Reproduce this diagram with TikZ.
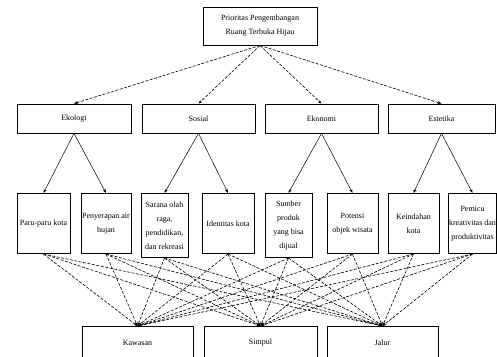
\documentclass[tikz,border=0pt]{standalone}
\usepackage{fontspec}
\setmainfont{Liberation Serif}
\usetikzlibrary{arrows.meta}
\tikzset{
    box/.style={draw, line width=0.9pt, inner sep=1pt, align=center,
                font=\fontsize{8}{14}\selectfont},
    goal/.style={box, minimum width=114pt, minimum height=38pt},
    crit/.style={box, line width=0.8pt, minimum height=29pt},
    sub/.style={box, line width=1pt, anchor=north, minimum height=60pt},
    alt/.style={box, anchor=north, minimum height=32pt},
    branch/.style={-{Stealth[length=4pt,width=3pt]}, line width=0.5pt},
    link/.style={branch, line width=0.6pt, dashed, dash pattern=on 3pt off 1.5pt},
}

\begin{document}
\begin{tikzpicture}[x=1pt, y=-1pt]

    \useasboundingbox (0,0) rectangle (497,356);

    \node[goal] (prio) at (260,26) {Prioritas Pengembangan\\Ruang Terbuka Hijau};

    \node[crit, minimum width=114pt] (eko) at (74,118.5) {Ekologi};
    \node[crit, minimum width=113pt] (sos) at (198.5,118.5) {Sosial};
    \node[crit, minimum width=113pt] (ekn) at (321.5,118.5) {Ekonomi};
    \node[crit, minimum width=107pt] (est) at (441.5,118.5) {Estetika};

    \node[sub, minimum width=53pt] (paru) at (43.5,193) {Paru-paru kota};
    \node[sub, minimum width=50pt] (resap) at (106,193) {Penyerapan air\\hujan};
    \node[sub, minimum width=47pt, minimum height=64pt] (sarana) at (164.5,193)
        {Sarana olah\\raga,\\pendidikan,\\dan rekreasi};
    \node[sub, minimum width=52pt] (ident) at (228,193) {Identitas kota};
    \node[sub, minimum width=47pt, minimum height=64pt] (sumber) at (288.5,193)
        {Sumber\\produk\\yang bisa\\dijual};
    \node[sub, minimum width=51pt] (wisata) at (352.5,193) {Potensi\\objek wisata};
    \node[sub, minimum width=51pt] (indah) at (413.5,193) {Keindahan\\kota};
    \node[sub, minimum width=47pt] (kreatif) at (472.5,193)
        {Pemicu\\kreativitas dan\\produktivitas};

    \node[alt, minimum width=111pt] (kaw) at (137.5,326) {Kawasan};
    \node[alt, minimum width=113pt] (simp) at (260.5,326) {Simpul};
    \node[alt, minimum width=111pt] (jal) at (382.5,326) {Jalur};

    \foreach \c in {eko,sos,ekn,est}
        \draw[link] (prio.south) -- (\c.north);

    \draw[branch] (eko.south) -- (paru.north);
    \draw[branch] (eko.south) -- (resap.north);
    \draw[branch] (sos.south) -- (sarana.north);
    \draw[branch] (sos.south) -- (ident.north);
    \draw[branch] (ekn.south) -- (sumber.north);
    \draw[branch] (ekn.south) -- (wisata.north);
    \draw[branch] (est.south) -- (indah.north);
    \draw[branch] (est.south) -- (kreatif.north);

    \foreach \s in {paru,resap,sarana,ident,sumber,wisata,indah,kreatif}
        \foreach \a in {kaw,simp,jal}
            \draw[link] (\s.south) -- (\a.north);

\end{tikzpicture}
\end{document}
